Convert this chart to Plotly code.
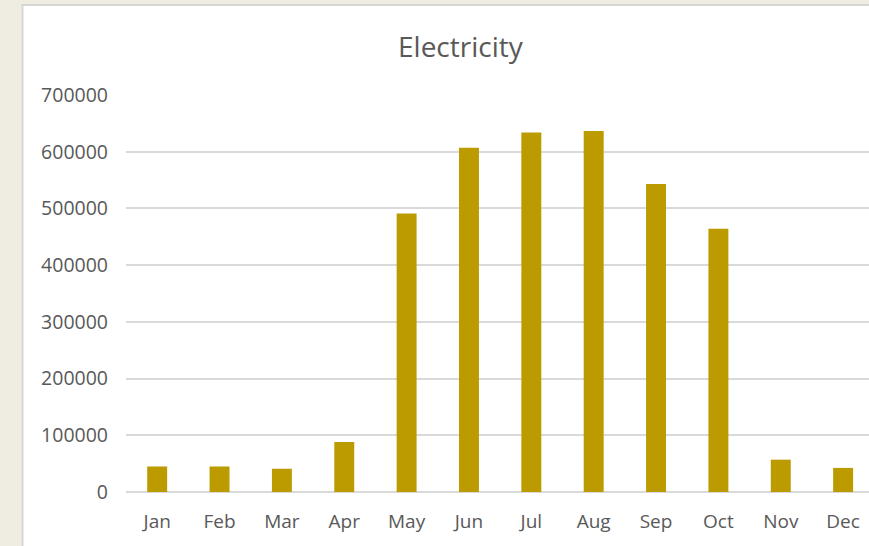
import plotly.graph_objects as go

months = ["Jan", "Feb", "Mar", "Apr", "May", "Jun", "Jul", "Aug", "Sep", "Oct", "Nov", "Dec"]
electricity = [45000, 45000, 41000, 88000, 491000, 607000, 634000, 636500, 543000, 464000, 57000, 42500]
y_ticks = [0, 100000, 200000, 300000, 400000, 500000, 600000, 700000]

W, H = 869, 546

fig = go.Figure()
fig.add_trace(go.Bar(
    x=months, y=electricity,
    marker=dict(color="#bc9b00", line=dict(width=0)),
    width=0.32,
))

fig.update_layout(
    width=W, height=H,
    margin=dict(l=0, r=0, t=0, b=0, autoexpand=False),
    paper_bgcolor="#efede2",
    plot_bgcolor="rgba(0,0,0,0)",
    showlegend=False,
    font=dict(family="Open Sans", color="#595959"),
    shapes=[dict(
        type="rect", xref="paper", yref="paper", layer="below",
        x0=22.5 / W, x1=1.05, y0=-0.05, y1=1 - 5 / H,
        fillcolor="white", line=dict(color="#d6d6d6", width=2),
    )],
    annotations=[dict(
        text="Electricity", xref="paper", yref="paper",
        x=461 / W, y=1 - 46 / H, xanchor="center", yanchor="middle",
        showarrow=False, font=dict(size=28, color="#595959", family="Open Sans"),
    )],
    xaxis=dict(
        domain=[126 / W, 1.0],
        range=[-0.5, 11.415],
        showgrid=False, showline=False, zeroline=False, automargin=False,
        ticks="", tickfont=dict(size=19, color="#595959"),
        ticklabelstandoff=16,
    ),
    yaxis=dict(
        domain=[(H - 492) / H, (H - 95) / H],
        range=[0, 700000],
        tickvals=y_ticks, ticktext=[str(v) for v in y_ticks],
        showgrid=True, gridcolor="#d9d9d9", gridwidth=2,
        zeroline=True, zerolinecolor="#d9d9d9", zerolinewidth=2,
        showline=False, ticks="", automargin=False,
        tickfont=dict(size=19.5, color="#595959"),
        ticklabelstandoff=17,
    ),
    bargap=0.68,
)

fig.write_html(
    "out.html",
    config={"displayModeBar": False},
    post_script="document.body.style.margin='0';document.body.style.overflow='hidden';",
)
